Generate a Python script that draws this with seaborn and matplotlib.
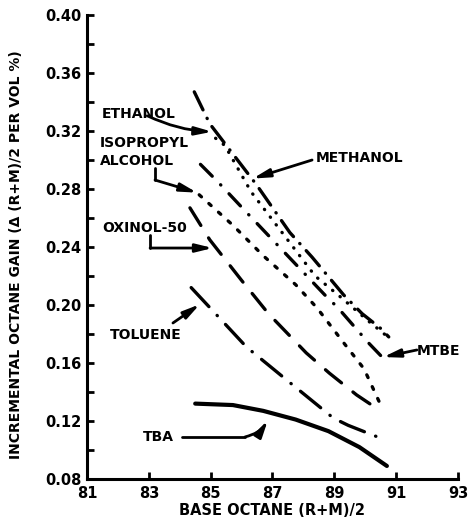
import numpy as np
import pandas as pd
import matplotlib
matplotlib.use("Agg")
import matplotlib.pyplot as plt
import seaborn as sns

sns.set_theme(style="ticks")
plt.rcParams['font.family'] = ['DejaVu Sans']
plt.rcParams['font.weight'] = 'bold'

# ---- data ----
methanol_x = [84.47, 84.97, 86.48, 87.56, 88.28, 89.30, 89.90, 90.49, 90.76]
methanol_y = [0.347, 0.325, 0.283, 0.250, 0.233, 0.207, 0.194, 0.184, 0.178]
ethanol_x = [85.16, 85.46, 86.31, 88.38, 89.12, 90.10, 90.73]
ethanol_y = [0.315, 0.310, 0.278, 0.220, 0.207, 0.189, 0.178]
mtbe_x = [84.67, 85.23, 86.11, 88.69, 89.12, 90.10, 90.55]
mtbe_y = [0.297, 0.285, 0.265, 0.207, 0.198, 0.174, 0.164]
isopropyl_x = [84.63, 85.72, 86.70, 87.75, 88.44, 89.30, 89.96, 90.50]
isopropyl_y = [0.276, 0.255, 0.234, 0.214, 0.198, 0.174, 0.156, 0.131]
oxinol_x = [84.33, 84.97, 86.00, 86.87, 88.09, 88.84, 89.72, 90.49]
oxinol_y = [0.267, 0.245, 0.217, 0.194, 0.167, 0.153, 0.138, 0.127]
toluene_x = [84.37, 85.07, 86.16, 87.59, 88.97, 89.45, 90.40]
toluene_y = [0.212, 0.196, 0.171, 0.146, 0.122, 0.117, 0.109]
tba_x = [84.50, 85.72, 86.70, 87.75, 88.81, 89.81, 90.70]
tba_y = [0.132, 0.131, 0.127, 0.121, 0.113, 0.102, 0.089]

x_ticks = [81, 83, 85, 87, 89, 91, 93]
y_ticks = [0.08, 0.12, 0.16, 0.20, 0.24, 0.28, 0.32, 0.36, 0.40]
y_tick_labels = ["0.08", "0.12", "0.16", "0.20", "0.24", "0.28", "0.32", "0.36", "0.40"]

series = [
    ("METHANOL", methanol_x, methanol_y),
    ("ETHANOL", ethanol_x, ethanol_y),
    ("MTBE", mtbe_x, mtbe_y),
    ("ISOPROPYL ALCOHOL", isopropyl_x, isopropyl_y),
    ("OXINOL-50", oxinol_x, oxinol_y),
    ("TOLUENE", toluene_x, toluene_y),
    ("TBA", tba_x, tba_y),
]

styles = {
    "METHANOL": dict(linestyle=(0, (6.0, 2.8, 0.1, 2.8)), lw=2.4),
    "ETHANOL": dict(linestyle=(0, (0.1, 2.8)), lw=2.4),
    "MTBE": dict(linestyle=(0, (5.0, 3.6, 0.1, 3.6)), lw=2.4),
    "ISOPROPYL ALCOHOL": dict(linestyle=(0, (0.9, 3.0)), lw=2.4),
    "OXINOL-50": dict(linestyle=(0, (6.2, 4.4)), lw=2.4),
    "TOLUENE": dict(linestyle=(0, (7.8, 3.6, 0.1, 3.6)), lw=2.4),
    "TBA": dict(linestyle="-", lw=3.0),
}

fig = plt.figure(figsize=(4.71, 5.25), dpi=100)
ax = fig.add_axes([0.1847, 0.0876, 0.7877, 0.8838])

for name, xs, ys in series:
    df = pd.DataFrame({"x": xs, "y": ys})
    st = styles[name]
    sns.lineplot(data=df, x="x", y="y", ax=ax, color="black",
                 linewidth=st["lw"], linestyle=st["linestyle"],
                 estimator=None, sort=True)
for ln in ax.get_lines():
    ln.set_dash_capstyle("round")
    ln.set_solid_capstyle("round")

ax.set_xlim(81, 93)
ax.set_ylim(0.08, 0.40)
ax.set_xticks(x_ticks)
ax.set_xticklabels([str(v) for v in x_ticks])
ax.set_yticks(y_ticks)
ax.set_yticklabels(y_tick_labels)
ax.set_yticks([0.10, 0.14, 0.18, 0.22, 0.26, 0.30, 0.34, 0.38], minor=True)

sns.despine(ax=ax)
for s in ["left", "bottom"]:
    ax.spines[s].set_linewidth(2.2)
    ax.spines[s].set_color("black")
ax.tick_params(axis="both", which="both", direction="in", width=2, length=5,
               color="black", labelsize=10.5, labelcolor="black")
ax.tick_params(axis="y", pad=4)
ax.tick_params(axis="x", pad=5)
for lab in ax.get_xticklabels() + ax.get_yticklabels():
    lab.set_fontweight("bold")

ax.set_xlabel("BASE OCTANE (R+M)/2", fontsize=10.5, fontweight="bold", color="black")
ax.set_ylabel("INCREMENTAL OCTANE GAIN (\u0394 (R+M)/2 PER VOL %)", fontsize=10,
              fontweight="bold", color="black")
ax.xaxis.set_label_coords(0.499, -0.052)
ax.yaxis.set_label_coords(-0.172, 0.483)

tfont = dict(fontsize=10, fontweight="bold", color="black", va="center", ha="left")
ax.text(81.49, 0.3317, "ETHANOL", **tfont)
ax.text(81.42, 0.3117, "ISOPROPYL", **tfont)
ax.text(81.42, 0.2993, "ALCOHOL", **tfont)
ax.text(81.49, 0.2531, "OXINOL-50", **tfont)
ax.text(81.74, 0.1793, "TOLUENE", **tfont)
ax.text(82.81, 0.1090, "TBA", **tfont)
ax.text(88.41, 0.3014, "METHANOL", **tfont)
ax.text(91.67, 0.1683, "MTBE", **tfont)

aprops = dict(arrowstyle="-|>,head_length=0.9,head_width=0.22", color="black",
              lw=2.0, mutation_scale=11, shrinkA=0, shrinkB=0)

def arrow(tail, tip, rad=0.0):
    p = dict(aprops)
    p["connectionstyle"] = f"arc3,rad={rad}"
    ax.annotate("", xy=tip, xytext=tail, arrowprops=p)

# ethanol
arrow((82.95, 0.3305), (85.05, 0.3195), rad=0.1)
# isopropyl (elbow)
ax.plot([83.2, 83.2], [0.2945, 0.2862], color="black", lw=2.0)
arrow((83.2, 0.2862), (84.56, 0.2775))
# oxinol (elbow)
ax.plot([83.04, 83.04], [0.2483, 0.2393], color="black", lw=2.0)
arrow((83.04, 0.2393), (85.07, 0.2393))
# toluene
arrow((83.78, 0.1876), (84.65, 0.2005))
# tba
ax.plot([84.07, 86.11], [0.109, 0.109], color="black", lw=2.0)
arrow((86.11, 0.109), (86.85, 0.1205), rad=0.2)
# methanol
arrow((88.28, 0.3000), (86.36, 0.2872))
# mtbe
arrow((91.67, 0.1690), (90.58, 0.1641))

fig.savefig("out.png", dpi=100)
